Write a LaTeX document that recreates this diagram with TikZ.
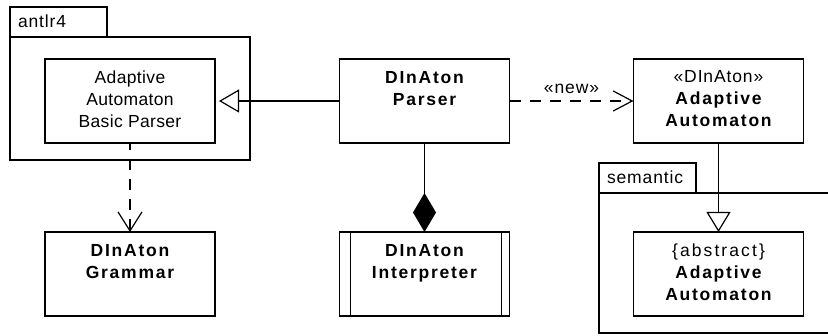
\documentclass[tikz,border=0pt]{standalone}
\usepackage{fontspec}
\setmainfont[LetterSpace=2]{Liberation Sans}
\newfontfamily\bsp[LetterSpace=10]{Liberation Sans Bold}
\newfontfamily\rsp[LetterSpace=12]{Liberation Sans}
\newfontfamily\ssp[LetterSpace=5]{Liberation Sans}
\usetikzlibrary{arrows.meta,calc}
\begin{document}
\begin{tikzpicture}[x=1pt,y=-1pt,line width=1.2pt,
  box/.style={draw,rectangle,inner sep=0pt,outer sep=0pt,minimum width=170pt,minimum height=84pt},
  txt/.style={inner sep=0pt,outer sep=0pt,align=center,anchor=north,font={\fontsize{17.5}{22}\selectfont}},
  pkglbl/.style={inner sep=0pt,outer sep=0pt,anchor=base west,font={\fontsize{17.5}{22}\selectfont\ssp}},
  gen/.style={-{Triangle[open,length=20pt,width=23pt]}},
  dep/.style={dash pattern=on 11pt off 9pt},
  comp/.style={-{Diamond[length=39pt,width=23pt]}}
]
\useasboundingbox (0,0) rectangle (828,336);
% packages
\draw (10,7) rectangle (107,37);
\draw (10,37) rectangle (250,160);
\node[pkglbl] (antlrL) at (18,28) {antlr4};
\draw (599,163) rectangle (696,193);
\draw (829,193) -- (599,193) -- (599,333) -- (829,333);
\node[pkglbl] (semL) at (607,184) {semantic};
% boxes
\node[box] (basic) at (130,101) {};
\node[box] (parser) at (424.5,101) {};
\node[box] (adapt) at (718.5,101) {};
\node[box] (grammar) at (130,274) {};
\node[box] (interp) at (424.5,274) {};
\node[box] (abstr) at (718.5,274) {};
\draw ([xshift=11pt]interp.north west) -- ([xshift=11pt]interp.south west);
\draw ([xshift=-8pt]interp.north east) -- ([xshift=-8pt]interp.south east);
% texts
\node[txt] (basicT) at ($(basic.north)+(0,12.2)$) {Adaptive\\Automaton\\Basic Parser};
\node[txt] (parserT) at ($(parser.north)+(0,12.4)$) {\bsp DInAton\\\bsp Parser};
\node[txt] (adaptT) at ($(adapt.north)+(0,11.2)$) {\ssp «DInAton»\\\bsp Adaptive\\\bsp Automaton};
\node[txt] (grammarT) at ($(grammar.north)+(0,12.4)$) {\bsp DInAton\\\bsp Grammar};
\node[txt] (interpT) at ($(interp.north)+(0,12.4)$) {\bsp DInAton\\\bsp Interpreter};
\node[txt] (abstrT) at ($(abstr.north)+(0,11.8)$) {\rsp\{abstract\}\\\bsp Adaptive\\\bsp Automaton};
% connectors
\draw[gen,shorten >=4pt] (parser.west) -- (basic.east);
\draw[dep,-{Straight Barb[length=19pt,width=20pt]}] (parser.east) -- node[pkglbl,anchor=base,yshift=7pt] (newL) {«new»} (adapt.west);
\draw[dep,dash phase=4pt,-{Straight Barb[length=19pt,width=24pt]}] (basic.south) -- (grammar.north);
\draw[comp] (parser.south) -- (interp.north);
\draw[gen,-{Triangle[open,length=20pt,width=24pt]}] (adapt.south) -- (abstr.north);
\end{tikzpicture}
\end{document}
